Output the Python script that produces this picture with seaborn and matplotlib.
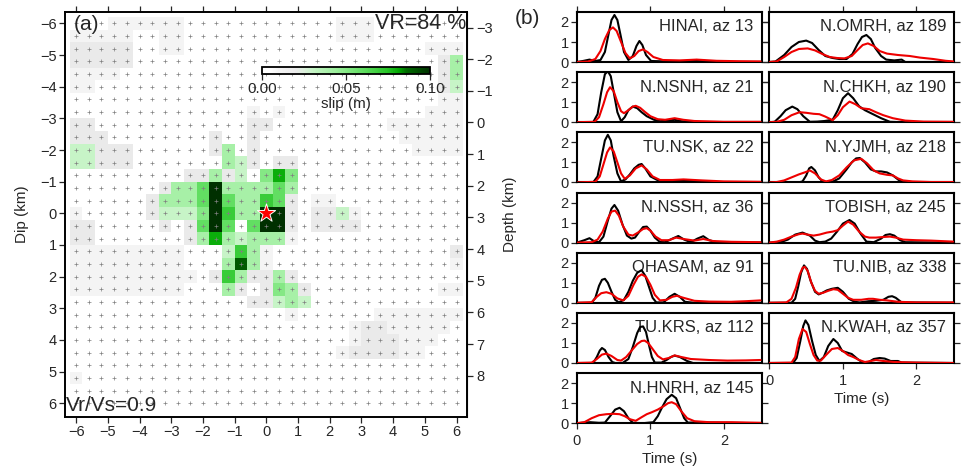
import matplotlib
matplotlib.use("Agg")
import matplotlib.pyplot as plt
from matplotlib.colors import LinearSegmentedColormap
import numpy as np
import pandas as pd
import seaborn as sns

# ---- slip model (a): 31 x 31 subfaults, 0.4 km spacing, strike/dip -6..6 km
# one character per cell: '.' = 0, '1'..'9' = 0.01..0.09 m, 'A' = 0.10 m
SLIP_ROWS = [
    "...111111............111.......",
    "11111..11............111.......",
    "22222..11...................111",
    "22222........................24",
    "1111.........................24",
    "11...........................23",
    ".............................11",
    "..............1.1...........111",
    "22............22.........111111",
    "222........2..2...........11111",
    "33222......24.2............1111",
    "33222.......432.22.............",
    ".........22423.585.............",
    ".......2446A444464.............",
    "......24446A644762.11..........",
    "1.....23335A744AA2.2231........",
    "22.....2.26A6.6AA2.2222........",
    "22.......248434441.............",
    "111111111...3741..............2",
    "111111111...4941..............1",
    "1111111111.2742242.............",
    "111111111...42.2542..........11",
    "..............22343............",
    ".................1......1111111",
    "......................12211111.",
    "......................1222111..",
    ".....................1222211...",
    "...............................",
    "1..............................",
    "...............................",
    "...............................",
]
SUBFAULT_STEP = 0.4           # km
HYPO_STRIKE, HYPO_DIP = 0.0, 0.0
DEPTH_AT_DIP0 = 2.87          # km
VR_TEXT = "VR=84 %"
VRVS_TEXT = "Vr/Vs=0.9"

# ---- waveform fits (b): (time s, amplitude)
STATIONS = ["HINAI", "N.NSNH", "TU.NSK", "N.NSSH", "OHASAM", "TU.KRS", "N.HNRH",
            "N.OMRH", "N.CHKH", "N.YJMH", "TOBISH", "TU.NIB", "N.KWAH"]
AZIMUTHS = [13, 21, 22, 36, 91, 112, 145, 189, 190, 218, 245, 338, 357]

OBS = {
    "HINAI": [(0, 0), (0.08, 0.05), (0.17, 0.12), (0.25, 0.05), (0.32, 0.1), (0.38, 0.5), (0.43, 1.4),
              (0.47, 2.1), (0.51, 2.35), (0.55, 2.1), (0.59, 1.4), (0.64, 0.5), (0.7, 0.1), (0.76, 0.3),
              (0.81, 0.8), (0.85, 1.05), (0.89, 0.85), (0.94, 0.35), (1.01, 0.05), (1.3, 0.02),
              (1.5, 0.05), (1.63, 0.1), (1.75, 0.05), (1.9, 0), (2.5, 0)],
    "N.NSNH": [(0, 0), (0.22, 0), (0.28, 0.4), (0.33, 1.5), (0.38, 2.4), (0.42, 2.55), (0.46, 2.3),
               (0.5, 1.5), (0.55, 0.5), (0.6, 0.05), (0.65, 0.25), (0.7, 0.6), (0.76, 0.78), (0.82, 0.7),
               (0.88, 0.5), (0.95, 0.3), (1.05, 0.12), (1.13, 0.05), (1.25, 0.08), (1.33, 0.12),
               (1.42, 0.05), (1.6, 0), (2.5, 0)],
    "TU.NSK": [(0, 0), (0.22, 0), (0.28, 0.3), (0.33, 1.2), (0.38, 2.1), (0.42, 2.38), (0.46, 2.1),
               (0.5, 1.3), (0.55, 0.45), (0.6, 0.05), (0.66, 0.15), (0.72, 0.4), (0.78, 0.7), (0.84, 0.88),
               (0.88, 0.92), (0.93, 0.7), (1.0, 0.3), (1.13, 0.05), (1.3, 0.05), (1.49, 0.12),
               (1.65, 0.02), (2.5, 0)],
    "N.NSSH": [(0, 0), (0.1, 0.12), (0.17, 0.22), (0.24, 0.05), (0.3, 0.02), (0.36, 0.3), (0.42, 1.1),
               (0.47, 1.7), (0.51, 1.88), (0.56, 1.6), (0.62, 0.9), (0.68, 0.35), (0.74, 0.2), (0.79, 0.25),
               (0.85, 0.55), (0.9, 0.78), (0.95, 0.8), (1.0, 0.6), (1.06, 0.25), (1.13, 0.03), (1.2, 0.02),
               (1.3, 0.2), (1.38, 0.33), (1.46, 0.15), (1.55, 0.02), (1.64, 0.2), (1.72, 0.32),
               (1.8, 0.12), (1.9, 0.02), (2.5, 0)],
    "OHASAM": [(0, 0), (0.2, 0), (0.25, 0.25), (0.3, 0.85), (0.34, 1.15), (0.38, 1.2), (0.42, 1.0),
               (0.47, 0.55), (0.52, 0.15), (0.57, 0.02), (0.64, 0.15), (0.7, 0.55), (0.76, 1.1), (0.82, 1.5),
               (0.88, 1.63), (0.93, 1.35), (0.98, 0.8), (1.03, 0.25), (1.08, 0.02), (1.18, 0.02),
               (1.26, 0.3), (1.33, 0.45), (1.4, 0.3), (1.47, 0.05), (1.6, 0), (2.5, 0)],
    "TU.KRS": [(0, 0), (0.22, 0), (0.27, 0.3), (0.31, 0.62), (0.34, 0.75), (0.38, 0.65), (0.43, 0.3),
               (0.48, 0.05), (0.52, 0), (0.62, 0), (0.7, 0.2), (0.76, 0.8), (0.82, 1.5), (0.86, 1.8),
               (0.9, 1.83), (0.94, 1.55), (0.98, 0.9), (1.02, 0.3), (1.06, 0.02), (1.15, 0.02),
               (1.22, 0.15), (1.28, 0.3), (1.33, 0.37), (1.4, 0.3), (1.5, 0.1), (1.58, 0), (2.5, 0)],
    "N.HNRH": [(0, 0), (0.1, 0.03), (0.18, 0.05), (0.3, 0.02), (0.38, 0.03), (0.45, 0.35), (0.52, 0.68),
               (0.58, 0.77), (0.64, 0.6), (0.7, 0.25), (0.76, 0.02), (0.9, 0), (1.04, 0.05), (1.1, 0.35),
               (1.16, 0.8), (1.22, 1.2), (1.29, 1.42), (1.35, 1.25), (1.41, 0.7), (1.46, 0.25),
               (1.51, 0.03), (1.7, 0.04), (2.0, 0.02), (2.5, 0)],
    "N.OMRH": [(0, 0), (0.08, 0.02), (0.2, 0.35), (0.3, 0.75), (0.4, 1.0), (0.5, 1.07), (0.58, 0.95),
               (0.67, 0.6), (0.76, 0.3), (0.86, 0.2), (0.95, 0.15), (1.05, 0.15), (1.13, 0.4), (1.2, 0.9),
               (1.26, 1.25), (1.32, 1.35), (1.38, 1.15), (1.44, 0.7), (1.52, 0.3), (1.59, 0.12),
               (1.7, 0.08), (1.8, 0.12), (1.85, 0), (2.5, 0)],
    "N.CHKH": [(0, 0), (0.07, 0.02), (0.15, 0.3), (0.22, 0.6), (0.31, 0.78), (0.38, 0.65), (0.46, 0.3),
               (0.55, 0.02), (0.65, 0.03), (0.75, 0.06), (0.86, 0.12), (0.93, 0.6), (1.0, 1.2), (1.07, 1.45),
               (1.14, 1.2), (1.22, 0.8), (1.3, 0.6), (1.41, 0.4), (1.52, 0.2), (1.64, 0.02), (1.8, 0),
               (2.5, 0)],
    "N.YJMH": [(0, 0), (0.4, 0), (0.45, 0.05), (0.5, 0.35), (0.54, 0.7), (0.57, 0.77), (0.62, 0.6),
               (0.67, 0.25), (0.73, 0.02), (0.85, 0.02), (0.95, 0.2), (1.05, 0.65), (1.12, 1.0), (1.18, 1.2),
               (1.23, 1.22), (1.3, 1.0), (1.38, 0.65), (1.45, 0.55), (1.52, 0.55), (1.6, 0.5), (1.68, 0.35),
               (1.76, 0.12), (1.82, 0.02), (2.5, 0)],
    "TOBISH": [(0, 0), (0.15, 0.02), (0.25, 0.15), (0.35, 0.4), (0.45, 0.5), (0.55, 0.35), (0.62, 0.1),
               (0.68, 0.02), (0.76, 0.05), (0.84, 0.2), (0.92, 0.55), (1.0, 0.95), (1.09, 1.13), (1.16, 0.95),
               (1.24, 0.45), (1.32, 0.05), (1.42, 0.02), (1.52, 0.2), (1.58, 0.38), (1.64, 0.42), (1.7, 0.35),
               (1.78, 0.12), (1.85, 0.02), (2.5, 0)],
    "TU.NIB": [(0, 0), (0.3, 0), (0.35, 0.2), (0.39, 0.8), (0.43, 1.5), (0.47, 1.87), (0.51, 1.7),
               (0.56, 1.1), (0.62, 0.55), (0.67, 0.42), (0.72, 0.5), (0.78, 0.62), (0.85, 0.7), (0.93, 0.75),
               (1.0, 0.55), (1.08, 0.2), (1.16, 0.05), (1.23, 0.02), (1.35, 0.08), (1.45, 0.1), (1.55, 0.15),
               (1.62, 0.3), (1.67, 0.33), (1.72, 0.25), (1.8, 0.02), (2.5, 0)],
    "N.KWAH": [(0, 0), (0.32, 0), (0.37, 0.25), (0.42, 1.1), (0.46, 1.85), (0.49, 2.13), (0.53, 1.9),
               (0.58, 1.1), (0.63, 0.4), (0.68, 0.1), (0.74, 0.3), (0.8, 0.85), (0.87, 1.2), (0.93, 1.0),
               (0.99, 0.6), (1.05, 0.53), (1.12, 0.45), (1.2, 0.2), (1.27, 0.02), (1.35, 0.05), (1.42, 0.2),
               (1.5, 0.25), (1.57, 0.22), (1.65, 0.1), (1.75, 0.1), (1.8, 0.02), (2.5, 0)],
}

SYN = {
    "HINAI": [(0, 0), (0.15, 0.02), (0.25, 0.15), (0.32, 0.55), (0.38, 1.15), (0.44, 1.6), (0.49, 1.73),
              (0.54, 1.55), (0.6, 1.0), (0.66, 0.45), (0.72, 0.18), (0.78, 0.3), (0.84, 0.55), (0.9, 0.63),
              (0.96, 0.5), (1.04, 0.25), (1.17, 0.1), (1.4, 0.08), (1.63, 0.12), (1.9, 0.06), (2.2, 0.04),
              (2.5, 0.03)],
    "N.NSNH": [(0, 0), (0.24, 0.02), (0.3, 0.25), (0.36, 0.9), (0.41, 1.5), (0.45, 1.75), (0.5, 1.55),
               (0.55, 1.0), (0.6, 0.55), (0.64, 0.45), (0.7, 0.6), (0.76, 0.78), (0.8, 0.82), (0.86, 0.72),
               (0.93, 0.5), (1.0, 0.3), (1.1, 0.15), (1.2, 0.12), (1.33, 0.2), (1.45, 0.12), (1.6, 0.06),
               (2.0, 0.02), (2.5, 0.02)],
    "TU.NSK": [(0, 0), (0.25, 0.03), (0.31, 0.3), (0.36, 0.9), (0.41, 1.5), (0.45, 1.75), (0.5, 1.55),
               (0.55, 1.0), (0.6, 0.45), (0.65, 0.18), (0.72, 0.35), (0.8, 0.7), (0.88, 0.85), (0.95, 0.65),
               (1.03, 0.3), (1.13, 0.12), (1.3, 0.12), (1.45, 0.15), (1.7, 0.1), (2.0, 0.05), (2.5, 0.03)],
    "N.NSSH": [(0, 0), (0.2, 0.02), (0.28, 0.15), (0.35, 0.55), (0.42, 1.2), (0.47, 1.55), (0.52, 1.6),
               (0.57, 1.35), (0.63, 0.8), (0.7, 0.4), (0.76, 0.35), (0.83, 0.5), (0.9, 0.68), (0.95, 0.72),
               (1.0, 0.6), (1.07, 0.3), (1.15, 0.12), (1.25, 0.12), (1.35, 0.25), (1.45, 0.18), (1.6, 0.1),
               (1.72, 0.18), (1.85, 0.08), (2.1, 0.04), (2.5, 0.02)],
    "OHASAM": [(0, 0), (0.2, 0.03), (0.27, 0.3), (0.33, 0.48), (0.4, 0.53), (0.47, 0.45), (0.55, 0.22),
               (0.63, 0.12), (0.7, 0.35), (0.77, 0.9), (0.83, 1.3), (0.88, 1.42), (0.94, 1.3), (1.0, 0.9),
               (1.06, 0.4), (1.13, 0.12), (1.22, 0.15), (1.3, 0.3), (1.36, 0.35), (1.45, 0.25), (1.6, 0.1),
               (1.8, 0.06), (2.1, 0.05), (2.3, 0.08), (2.5, 0.12)],
    "TU.KRS": [(0, 0), (0.2, 0.02), (0.27, 0.2), (0.34, 0.42), (0.4, 0.47), (0.47, 0.35), (0.55, 0.15),
               (0.6, 0.12), (0.67, 0.3), (0.75, 0.65), (0.82, 0.95), (0.88, 1.1), (0.92, 1.12), (0.97, 1.0),
               (1.03, 0.7), (1.1, 0.35), (1.17, 0.18), (1.25, 0.25), (1.33, 0.38), (1.42, 0.3), (1.55, 0.2),
               (1.8, 0.15), (2.05, 0.12), (2.3, 0.13), (2.5, 0.15)],
    "N.HNRH": [(0, 0), (0.1, 0.05), (0.2, 0.25), (0.3, 0.4), (0.4, 0.45), (0.5, 0.47), (0.58, 0.45),
               (0.65, 0.35), (0.72, 0.2), (0.8, 0.12), (0.88, 0.3), (0.95, 0.45), (1.02, 0.55), (1.1, 0.68),
               (1.18, 0.85), (1.24, 1.0), (1.29, 1.05), (1.35, 0.95), (1.42, 0.6), (1.5, 0.25), (1.6, 0.1),
               (1.8, 0.05), (2.1, 0.05), (2.5, 0.02)],
    "N.OMRH": [(0, 0), (0.1, 0.03), (0.2, 0.25), (0.3, 0.5), (0.4, 0.65), (0.52, 0.68), (0.62, 0.58),
               (0.72, 0.4), (0.82, 0.25), (0.92, 0.2), (1.02, 0.18), (1.12, 0.3), (1.2, 0.6), (1.27, 0.85),
               (1.34, 0.93), (1.42, 0.8), (1.5, 0.55), (1.6, 0.42), (1.75, 0.35), (1.91, 0.3), (2.05, 0.22),
               (2.23, 0.15), (2.4, 0.06), (2.5, 0.03)],
    "N.CHKH": [(0, 0), (0.1, 0.02), (0.2, 0.12), (0.3, 0.35), (0.41, 0.5), (0.5, 0.47), (0.6, 0.42),
               (0.68, 0.4), (0.76, 0.28), (0.86, 0.1), (0.93, 0.35), (1.0, 0.75), (1.09, 1.03), (1.17, 0.9),
               (1.25, 0.7), (1.36, 0.65), (1.45, 0.5), (1.55, 0.35), (1.68, 0.2), (1.85, 0.08), (2.1, 0.03),
               (2.5, 0.02)],
    "N.YJMH": [(0, 0), (0.1, 0.02), (0.2, 0.1), (0.3, 0.25), (0.4, 0.4), (0.48, 0.5), (0.55, 0.6),
               (0.62, 0.45), (0.7, 0.15), (0.77, 0.05), (0.85, 0.12), (0.95, 0.35), (1.05, 0.75), (1.15, 1.1),
               (1.25, 1.18), (1.33, 0.95), (1.42, 0.6), (1.5, 0.45), (1.6, 0.38), (1.68, 0.35), (1.75, 0.2),
               (1.82, 0.1), (1.95, 0.05), (2.2, 0.02), (2.5, 0.02)],
    "TOBISH": [(0, 0), (0.1, 0.05), (0.2, 0.15), (0.3, 0.3), (0.4, 0.42), (0.45, 0.45), (0.52, 0.4),
               (0.6, 0.35), (0.68, 0.4), (0.78, 0.5), (0.86, 0.55), (0.93, 0.62), (1.0, 0.85), (1.07, 1.05),
               (1.14, 0.9), (1.22, 0.55), (1.3, 0.3), (1.36, 0.25), (1.45, 0.25), (1.55, 0.28), (1.64, 0.3),
               (1.72, 0.25), (1.82, 0.15), (2.0, 0.12), (2.2, 0.1), (2.5, 0.05)],
    "TU.NIB": [(0, 0), (0.23, 0.02), (0.3, 0.2), (0.36, 0.75), (0.41, 1.4), (0.45, 1.75), (0.48, 1.8),
               (0.52, 1.6), (0.57, 1.0), (0.62, 0.6), (0.67, 0.45), (0.73, 0.5), (0.8, 0.6), (0.87, 0.68),
               (0.93, 0.65), (1.0, 0.45), (1.07, 0.25), (1.14, 0.15), (1.25, 0.15), (1.35, 0.2), (1.41, 0.2),
               (1.5, 0.15), (1.6, 0.12), (1.75, 0.05), (2.0, 0.02), (2.5, 0.02)],
    "N.KWAH": [(0, 0), (0.3, 0.02), (0.35, 0.3), (0.4, 1.2), (0.45, 1.7), (0.5, 1.55), (0.55, 0.95),
               (0.6, 0.4), (0.65, 0.12), (0.7, 0.12), (0.77, 0.4), (0.85, 0.7), (0.93, 0.75), (1.0, 0.6),
               (1.07, 0.4), (1.14, 0.3), (1.22, 0.15), (1.3, 0.05), (1.38, 0.1), (1.45, 0.15), (1.55, 0.1),
               (1.7, 0.05), (2.0, 0.02), (2.5, 0)],
}

sns.set_style("ticks")
plt.rcParams["font.family"] = ["Liberation Sans", "DejaVu Sans"]
plt.rcParams["axes.unicode_minus"] = True
plt.rcParams["xtick.direction"] = "out"
plt.rcParams["ytick.direction"] = "out"

W, H = 962, 470
N_CELLS = 31


def box(x0, y0, x1, y1):
    # pixel box (top-left origin) -> figure fraction rect
    return [x0 / W, 1 - y1 / H, (x1 - x0) / W, (y1 - y0) / H]


def to_cell(km):
    return np.asarray(km) / SUBFAULT_STEP + 15.5


def minus(v):
    return str(v).replace("-", "\u2212")


rows = [r.ljust(N_CELLS, ".")[:N_CELLS] for r in SLIP_ROWS]
slip = np.array([[0.0 if ch == "." else int(ch, 16) / 100 for ch in r] for r in rows])

slip_cmap = LinearSegmentedColormap.from_list("slip", [
    (0.00, "#ffffff"), (0.05, "#ffffff"), (0.10, "#f4f4f4"), (0.20, "#eaeaea"),
    (0.25, "#dcefdc"), (0.30, "#c6f4c6"), (0.45, "#98ee98"), (0.60, "#62de62"),
    (0.75, "#26c426"), (0.82, "#00a400"), (0.86, "#006c00"), (1.00, "#003000"),
])

fig = plt.figure(figsize=(W / 100, H / 100), dpi=100)

# ---------------- (a) slip distribution ----------------
ax_a = fig.add_axes(box(65, 11.7, 467, 416.5))
cax = fig.add_axes(box(262, 66.5, 430, 73.5))

sns.heatmap(slip, ax=ax_a, cmap=slip_cmap, vmin=0, vmax=0.1, cbar_ax=cax,
            cbar_kws={"orientation": "horizontal", "ticks": [0, 0.05, 0.1]},
            xticklabels=False, yticklabels=False)

grid_x, grid_y = np.meshgrid(np.arange(N_CELLS) + 0.5, np.arange(N_CELLS) + 0.5)
sns.scatterplot(x=grid_x.ravel(), y=grid_y.ravel(), marker="+", s=12, color="0.5",
                linewidth=0.5, ax=ax_a, legend=False, zorder=3)
sns.scatterplot(x=[to_cell(HYPO_STRIKE)], y=[to_cell(HYPO_DIP)], marker="*", s=190,
                color="red", edgecolor="white", linewidth=0.7, ax=ax_a, legend=False, zorder=4)

ax_a.set_xlim(to_cell(-6.35), to_cell(6.33))
ax_a.set_ylim(to_cell(6.42), to_cell(-6.37))
km_ticks = list(range(-6, 7))
ax_a.set_xticks(to_cell(km_ticks))
ax_a.set_xticklabels([minus(v) for v in km_ticks], fontsize=10.5)
ax_a.set_yticks(to_cell(km_ticks))
ax_a.set_yticklabels([minus(v) for v in km_ticks], fontsize=10.5, rotation=0)
ax_a.tick_params(top=True, labeltop=False, length=4, width=0.9, pad=2)
for sp in ax_a.spines.values():
    sp.set_visible(True)
    sp.set_linewidth(1.4)
    sp.set_color("black")
ax_a.set_xlabel("Strike (Southing, km)", fontsize=11, labelpad=1)
fig.text(22 / W, 1 - 214 / H, "Dip (km)", rotation=90, ha="center", va="center", fontsize=11)

depth_ax = ax_a.secondary_yaxis(
    "right",
    functions=(lambda c: (c - 15.5) * SUBFAULT_STEP + DEPTH_AT_DIP0,
               lambda d: (d - DEPTH_AT_DIP0) / SUBFAULT_STEP + 15.5))
depth_ticks = list(range(-3, 9))
depth_ax.set_yticks(depth_ticks)
depth_ax.set_yticklabels([minus(v) for v in depth_ticks], fontsize=10.5)
depth_ax.tick_params(length=4, width=0.9, pad=3)
depth_ax.set_ylabel("Depth (km)", fontsize=11, labelpad=7)

cbar = ax_a.collections[0].colorbar
cbar.outline.set_linewidth(1.3)
cbar.outline.set_edgecolor("black")
cbar.set_ticklabels(["0.00", "0.05", "0.10"])
cax.tick_params(labelsize=11, length=4, width=0.9, pad=2)
cbar.set_label("slip (m)", fontsize=11, labelpad=1)

ax_a.text(0.022, 0.993, "(a)", transform=ax_a.transAxes, ha="left", va="top", fontsize=15)
ax_a.text(0.999, 0.996, VR_TEXT, transform=ax_a.transAxes, ha="right", va="top", fontsize=15.5)
ax_a.text(0.002, 0.004, VRVS_TEXT, transform=ax_a.transAxes, ha="left", va="bottom", fontsize=15)

# ---------------- (b) waveform fits ----------------
fig.text(527 / W, 1 - 18 / H, "(b)", ha="center", va="center", fontsize=15)

n_left = 7
for k, (name, az) in enumerate(zip(STATIONS, AZIMUTHS)):
    col, row = (0, k) if k < n_left else (1, k - n_left)
    x0 = 577 if col == 0 else 769.5
    y0 = 12 + 60.2 * row
    ax = fig.add_axes(box(x0, y0, x0 + 185, y0 + 50))

    obs = pd.DataFrame(OBS[name], columns=["t", "amp"])
    syn = pd.DataFrame(SYN[name], columns=["t", "amp"])
    sns.lineplot(data=obs, x="t", y="amp", color="black", lw=1.5, sort=False,
                 estimator=None, ax=ax, zorder=3)
    sns.lineplot(data=syn, x="t", y="amp", color="#ee0000", lw=1.5, sort=False,
                 estimator=None, ax=ax, zorder=4)

    ax.set_xlim(0, 2.52)
    ax.set_ylim(0, 2.5)
    ax.set_xticks([0, 1, 2])
    ax.set_yticks([0, 1, 2])
    ax.set_xlabel("")
    ax.set_ylabel("")
    last = (col == 0 and row == n_left - 1) or (col == 1 and k == len(STATIONS) - 1)
    ax.tick_params(axis="y", left=True, right=True, labelleft=(col == 0), labelright=False,
                   length=4, width=0.9, labelsize=10.5, pad=2)
    ax.tick_params(axis="x", top=(row == 0), bottom=last, labelbottom=last, labeltop=False,
                   length=4, width=0.9, labelsize=10.5, pad=4)
    if last:
        ax.set_xlabel("Time (s)", fontsize=11, labelpad=3)
    for sp in ax.spines.values():
        sp.set_visible(True)
        sp.set_linewidth(1.5)
        sp.set_color("black")
    ax.text(0.955, 0.70, f"{name}, az {az}", transform=ax.transAxes, ha="right",
            va="center", fontsize=12, zorder=1)

fig.savefig("out.png", dpi=100)
